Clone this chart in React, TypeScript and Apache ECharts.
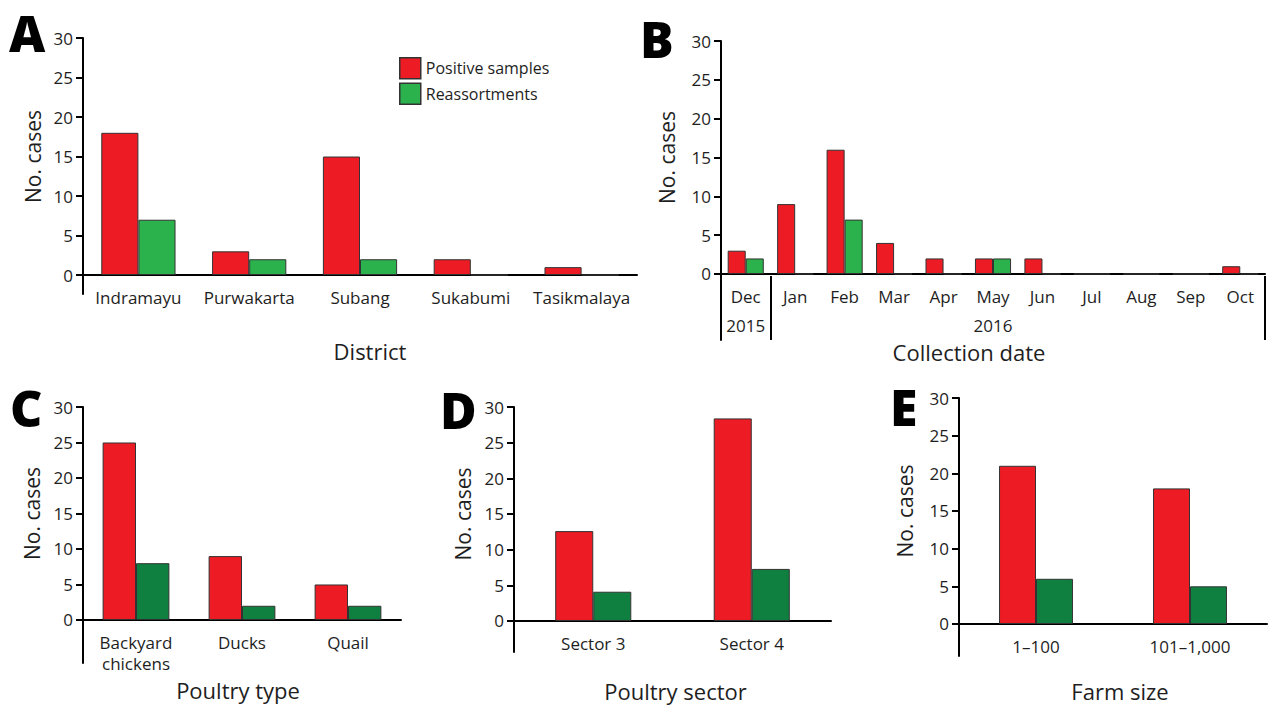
import React, { useEffect, useRef } from "react";
import * as echarts from "echarts";

// ---- Data ----
const districts = ["Indramayu", "Purwakarta", "Subang", "Sukabumi", "Tasikmalaya"];
const districtPositive = [18, 3, 15, 2, 1];
const districtReassort = [7, 2, 2, 0, 0];

const months = ["Dec", "Jan", "Feb", "Mar", "Apr", "May", "Jun", "Jul", "Aug", "Sep", "Oct"];
const monthYears = ["2015", "2016", "2016", "2016", "2016", "2016", "2016", "2016", "2016", "2016", "2016"];
const monthPositive = [3, 9, 16, 4, 2, 2, 2, 0, 0, 0, 1];
const monthReassort = [2, 0, 7, 0, 0, 2, 0, 0, 0, 0, 0];

const poultryTypes = ["Backyard\nchickens", "Ducks", "Quail"];
const typePositive = [25, 9, 5];
const typeReassort = [8, 2, 2];

const sectors = ["Sector 3", "Sector 4"];
const sectorPositive = [12.6, 28.4];
const sectorReassort = [4.1, 7.3];

const farmSizes = ["1–100", "101–1,000"];
const farmPositive = [21, 18];
const farmReassort = [6, 5];

const yTicks = [0, 5, 10, 15, 20, 25, 30];
const seriesNames = ["Positive samples", "Reassortments"];

const RED = "#ed1c24";
const GREEN_LIGHT = "#2bb24c";
const GREEN_DARK = "#0f8040";
const FONT = "Open Sans";
const TXT = "#1e1e1e";

export default function App() {
  const ref = useRef<HTMLDivElement>(null);

  useEffect(() => {
    if (!ref.current) return;
    const chart = echarts.init(ref.current, undefined, { renderer: "svg" });

    const grids = [
      { left: 83, top: 38, width: 554, height: 256 },
      { left: 721, top: 41, width: 544, height: 299 },
      { left: 83, top: 407, width: 318, height: 256 },
      { left: 514, top: 407, width: 317, height: 245 },
      { left: 959, top: 398, width: 308, height: 258 },
    ];
    // negative extension of each y axis below zero (axis line runs past the x axis)
    const yMins = [-2.4, -8.5, -6.06, -4.35, -4.25];
    const yExt = [19, 66, 43, 31, 32];
    const yNameGaps = [40, 44, 41, 41, 44];

    const yAxes = grids.map((_, i) => ({
      type: "value",
      gridIndex: i,
      min: yMins[i],
      max: 30,
      name: "No. cases",
      nameLocation: "middle",
      nameGap: yNameGaps[i],
      nameTextStyle: { fontSize: 21, fontFamily: FONT, color: TXT, padding: [0, 0, 0, yExt[i]] },
      axisLine: { show: true, onZero: false, lineStyle: { color: "#000", width: 2 } },
      axisTick: { show: true, length: 7, customValues: yTicks, lineStyle: { color: "#000", width: 2 } },
      axisLabel: { customValues: yTicks, fontSize: 17, fontFamily: FONT, color: TXT, margin: 10 },
      splitLine: { show: false },
    }));

    const catAxis = (grid: number, data: string[], name: string, nameGap: number, padding: number[]) => ({
      type: "category",
      gridIndex: grid,
      data,
      position: "bottom",
      offset: -yExt[grid],
      name,
      nameLocation: "middle",
      nameGap,
      nameMoveOverlap: false,
      nameTextStyle: { fontSize: 22, fontFamily: FONT, color: TXT, padding },
      axisLine: { show: true, onZero: false, lineStyle: { color: "#000", width: 2 } },
      axisTick: { show: false },
      axisLabel: { fontSize: 17, fontFamily: FONT, color: TXT, margin: 12, interval: 0, lineHeight: 21 },
      splitLine: { show: false },
    });

    const xAxes = [
      catAxis(0, districts, "District", 65, [0, 0, 0, 20]),
      catAxis(1, months, "Collection date", 67, [0, 48, 0, 0]),
      {
        type: "category",
        gridIndex: 1,
        data: months,
        position: "bottom",
        offset: 0,
        axisLine: { show: false, onZero: false },
        axisTick: {
          show: true,
          inside: true,
          length: 64,
          interval: (i: number) => i === 0 || i === 1,
          lineStyle: { color: "#000", width: 2 },
        },
        axisLabel: {
          inside: true,
          margin: 6,
          fontSize: 17,
          fontFamily: FONT,
          color: TXT,
          interval: (i: number) => i === 0 || i === 5,
          formatter: (_v: string, i: number) => monthYears[i],
        },
        splitLine: { show: false },
      },
      catAxis(2, poultryTypes, "Poultry type", 59, [0, 8, 0, 0]),
      catAxis(3, sectors, "Poultry sector", 59, [0, 0, 0, 6]),
      catAxis(4, farmSizes, "Farm size", 56, [0, 0, 0, 14]),
    ];

    const bar = (name: string, data: number[], xi: number, yi: number, color: string, gap: string) => ({
      type: "bar",
      name,
      data,
      xAxisIndex: xi,
      yAxisIndex: yi,
      barGap: "0%",
      barCategoryGap: gap,
      itemStyle: { color, borderColor: "#333", borderWidth: 1 },
      emphasis: { disabled: true },
    });

    const series = [
      bar(seriesNames[0], districtPositive, 0, 0, RED, "33%"),
      bar(seriesNames[1], districtReassort, 0, 0, GREEN_LIGHT, "33%"),
      bar(seriesNames[0], monthPositive, 1, 1, RED, "27%"),
      bar(seriesNames[1], monthReassort, 1, 1, GREEN_LIGHT, "27%"),
      bar(seriesNames[0], typePositive, 3, 2, RED, "37%"),
      bar(seriesNames[1], typeReassort, 3, 2, GREEN_DARK, "37%"),
      bar(seriesNames[0], sectorPositive, 4, 3, RED, "52%"),
      bar(seriesNames[1], sectorReassort, 4, 3, GREEN_DARK, "52%"),
      bar(seriesNames[0], farmPositive, 5, 4, RED, "52%"),
      bar(seriesNames[1], farmReassort, 5, 4, GREEN_DARK, "52%"),
    ];

    const letter = (t: string, x: number, y: number) => ({
      type: "text",
      x,
      y,
      style: {
        text: t,
        fontSize: 50,
        fontWeight: 900,
        fontFamily: FONT,
        fill: "#000",
        verticalAlign: "middle",
        align: "left",
      },
    });

    chart.setOption({
      animation: false,
      backgroundColor: "#fff",
      grid: grids.map((g) => ({ ...g, containLabel: false })),
      xAxis: xAxes,
      yAxis: yAxes,
      legend: {
        data: seriesNames,
        orient: "vertical",
        left: 399,
        top: 57,
        padding: 0,
        itemWidth: 21,
        itemHeight: 21,
        itemGap: 3,
        icon: "rect",
        selectedMode: false,
        textStyle: { fontSize: 16, fontFamily: FONT, color: TXT },
        itemStyle: { borderColor: "#333", borderWidth: 1.5 },
      },
      series,
      graphic: [
        letter("A", 9, 33),
        letter("B", 640, 39),
        letter("C", 10, 408),
        letter("D", 440, 410),
        letter("E", 890, 407),
      ],
    });

    return () => chart.dispose();
  }, []);

  return (
    <div
      ref={ref}
      style={{ position: "absolute", left: 0, top: 0, width: 1270, height: 706 }}
    />
  );
}
